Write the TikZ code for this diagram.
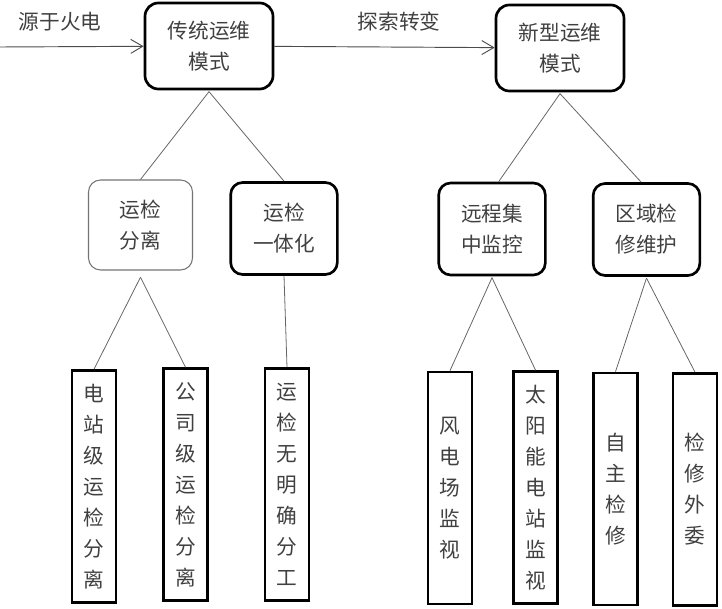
\documentclass[tikz,border=0pt]{standalone}
\usepackage{fontspec}
\setmainfont{Noto Sans CJK SC}
\usetikzlibrary{arrows.meta}

\begin{document}
\begin{tikzpicture}[x=0.75pt,y=-0.75pt,
		every node/.style={font=\fontsize{15.5}{23.25}\selectfont, text=black!75, align=center, inner sep=0pt},
		modebox/.style={draw, line width=2pt, rounded corners=10pt, minimum width=96pt, minimum height=64.5pt},
		waybox/.style={draw, line width=2pt, rounded corners=9pt, minimum width=80pt, minimum height=69pt},
		thinbox/.style={draw=black!55, line width=0.8pt, rounded corners=9pt, minimum width=78pt, minimum height=67.5pt},
		leafbox/.style={draw, line width=2pt, minimum width=33pt, minimum height=174pt},
		link/.style={draw=black!60, line width=0.6pt},
		flow/.style={draw=black!70, line width=0.7pt, -{Straight Barb[length=9pt,width=10.5pt]}}]
	\useasboundingbox (0,0) rectangle (722,609);

	% top level
	\node [modebox] (chuantong) at (209,46) {传统运维\\模式};
	\node [modebox] (xinxing) at (560,48) {新型运维\\模式};
	\coordinate (src) at (0,47);
	\draw [flow] (src) -- (chuantong);
	\draw [flow] (chuantong) -- (xinxing);
	\node (yuanyu) at (60,22) {源于火电};
	\node (tansuo) at (399,22) {探索转变};

	% second level
	\node [thinbox] (yjfl) at (140.5,225) {运检\\分离};
	\node [waybox] (yjyth) at (284,228.5) {运检\\一体化};
	\node [waybox] (ycjk) at (492,229) {远程集\\中监控};
	\node [waybox] (qyjx) at (646.5,229.5) {区域检\\修维护};
	\draw [link] ([yshift=-1pt]chuantong.south) -- (yjfl.north);
	\draw [link] ([yshift=-1pt]chuantong.south) -- (yjyth.north);
	\draw [link] ([yshift=-1pt]xinxing.south) -- ([xshift=5pt]ycjk.north);
	\draw [link] ([yshift=-1pt]xinxing.south) -- ([xshift=-4pt]qyjx.north);

	% leaves
	\node [leafbox] (dzj) at (94,486.5) {电\\站\\级\\运\\检\\分\\离};
	\node [leafbox] (gsj) at (185.5,484.5) {公\\司\\级\\运\\检\\分\\离};
	\node [leafbox] (wmq) at (287,484.5) {运\\检\\无\\明\\确\\分\\工};
	\node [leafbox] (fdc) at (450,488) {风\\电\\场\\监\\视};
	\node [leafbox] (tyn) at (535.5,487.5) {太\\阳\\能\\电\\站\\监\\视};
	\node [leafbox] (zzjx) at (615.5,489) {自\\主\\检\\修};
	\node [leafbox] (jxww) at (695,489.5) {检\\修\\外\\委};
	\draw [link] ([yshift=-5pt]yjfl.south) -- (dzj.north);
	\draw [link] ([yshift=-5pt]yjfl.south) -- (gsj.north);
	\draw [link] (yjyth.south) -- (wmq.north);
	\draw [link] ([yshift=-1pt]ycjk.south) -- (fdc.north);
	\draw [link] ([yshift=-1pt]ycjk.south) -- (tyn.north);
	\draw [link] ([yshift=-1pt]qyjx.south) -- (zzjx.north);
	\draw [link] ([yshift=-1pt]qyjx.south) -- (jxww.north);
\end{tikzpicture}
\end{document}
